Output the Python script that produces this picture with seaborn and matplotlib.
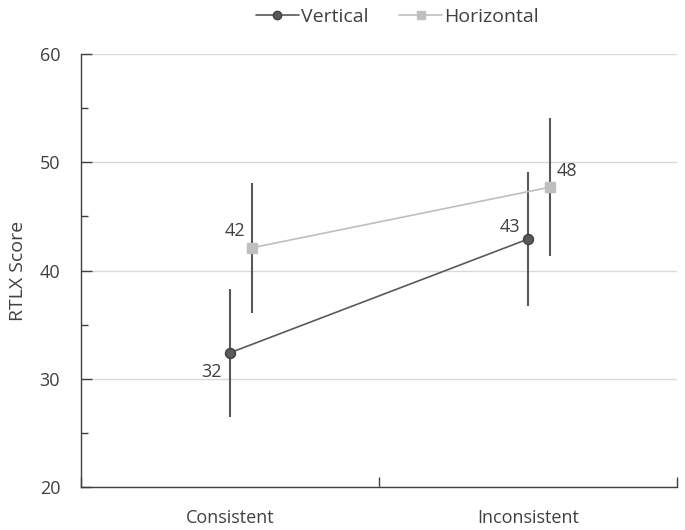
#-------------------------------------------------------------------------------------------
# RTLX score by condition (Vertical vs Horizontal), point chart with error bars
#-------------------------------------------------------------------------------------------

# Data frames.
import pandas as pd

# Plotting.
import matplotlib
matplotlib.use("Agg")
import matplotlib.pyplot as plt
from matplotlib.lines import Line2D

# Graphic manipulation.
import seaborn as sns

#-------------------------------------------------------------------------------------------
# DATA
#-------------------------------------------------------------------------------------------
conditions = ['Consistent', 'Inconsistent']
groups = ['Vertical', 'Horizontal']

vertical_mean = [32.4, 42.9]
vertical_err = [5.9, 6.2]
vertical_labels = ['32', '43']

horizontal_mean = [42.1, 47.7]
horizontal_err = [6.0, 6.4]
horizontal_labels = ['42', '48']

#-------------------------------------------------------------------------------------------
# STYLE
#-------------------------------------------------------------------------------------------
sns.set_theme(style='white')
plt.rcParams['font.family'] = ['Open Sans', 'DejaVu Sans']
text_color = '#404040'
fs = 13

colors = {'Vertical': '#595959', 'Horizontal': '#bfbfbf'}
edges = {'Vertical': '#404040', 'Horizontal': '#bfbfbf'}
markers = {'Vertical': 'o', 'Horizontal': 's'}
dodge = {'Vertical': 0.0, 'Horizontal': 0.074}
# label offsets in points (x, y)
label_offsets = {'Vertical': [(-13, -14), (-13, 9)],
                 'Horizontal': [(-12, 12), (12, 12)]}

# Build a long table.
rows = []
for g, means, errs, labs in [('Vertical', vertical_mean, vertical_err, vertical_labels),
                             ('Horizontal', horizontal_mean, horizontal_err, horizontal_labels)]:
    for i, c in enumerate(conditions):
        rows.append({'group': g, 'condition': c, 'pos': i + dodge[g],
                     'score': means[i], 'err': errs[i], 'label': labs[i]})
df = pd.DataFrame(rows)

#-------------------------------------------------------------------------------------------
# PLOT
#-------------------------------------------------------------------------------------------
fig = plt.figure(figsize=(6.85, 5.3), dpi=100)
ax = fig.add_axes([0.1182, 0.0811, 0.8698, 0.8169])

for k, g in enumerate(groups):
    sub = df[df['group'] == g]
    # error bars first (behind markers)
    ax.errorbar(sub['pos'], sub['score'], yerr=sub['err'], fmt='none',
                ecolor='#595959', elinewidth=1.5, capsize=0, zorder=2)
    sns.lineplot(data=sub, x='pos', y='score', ax=ax, color=colors[g],
                 marker=markers[g], markersize=7.2, markeredgecolor=edges[g],
                 markeredgewidth=1.0, linewidth=1.2, zorder=3 + k, legend=False)
    # value labels
    for j, (_, r) in enumerate(sub.iterrows()):
        ax.annotate(r['label'], (r['pos'], r['score']), xytext=label_offsets[g][j],
                    textcoords='offset points', ha='center', va='center',
                    fontsize=fs, color=text_color)

# Axes limits and ticks.
ax.set_xlim(-0.5, len(conditions) - 0.5)
ax.set_ylim(20, 60)
ax.set_xticks(range(len(conditions)))
ax.set_xticklabels(conditions)
ax.set_xticks([-0.5, 0.5, 1.5], minor=True)
ax.set_yticks(range(20, 61, 10))
ax.set_yticks(range(25, 60, 10), minor=True)

ax.tick_params(axis='x', which='major', length=0, pad=16, labelsize=fs, labelcolor=text_color)
ax.tick_params(axis='x', which='minor', direction='in', length=7, width=1, color='#404040', bottom=True)
ax.tick_params(axis='y', which='major', direction='in', length=8, width=1, color='#404040',
               pad=15, labelsize=fs, labelcolor=text_color, left=True)
ax.tick_params(axis='y', which='minor', direction='in', length=5, width=1, color='#404040', left=True)

# Gridlines.
ax.yaxis.grid(True, color='#d9d9d9', linewidth=1)
ax.xaxis.grid(False)
ax.set_axisbelow(True)

# Spines.
sns.despine(ax=ax, top=True, right=True)
for s in ['left', 'bottom']:
    ax.spines[s].set_color('#404040')
    ax.spines[s].set_linewidth(1)

ax.set_xlabel('')
ax.set_ylabel('RTLX Score', fontsize=14, color=text_color, labelpad=9)

# Legend at the top.
handles = [Line2D([], [], color=colors[g], marker=markers[g], markersize=6,
                  markeredgecolor=edges[g], linewidth=1.2) for g in groups]
fig.legend(handles, groups, loc='center', bbox_to_anchor=(0.58, 0.968), ncol=2,
           frameon=False, fontsize=14, labelcolor=text_color, handlelength=2.2,
           handletextpad=0.1, columnspacing=1.6)

plt.savefig('out.png', dpi=100)
